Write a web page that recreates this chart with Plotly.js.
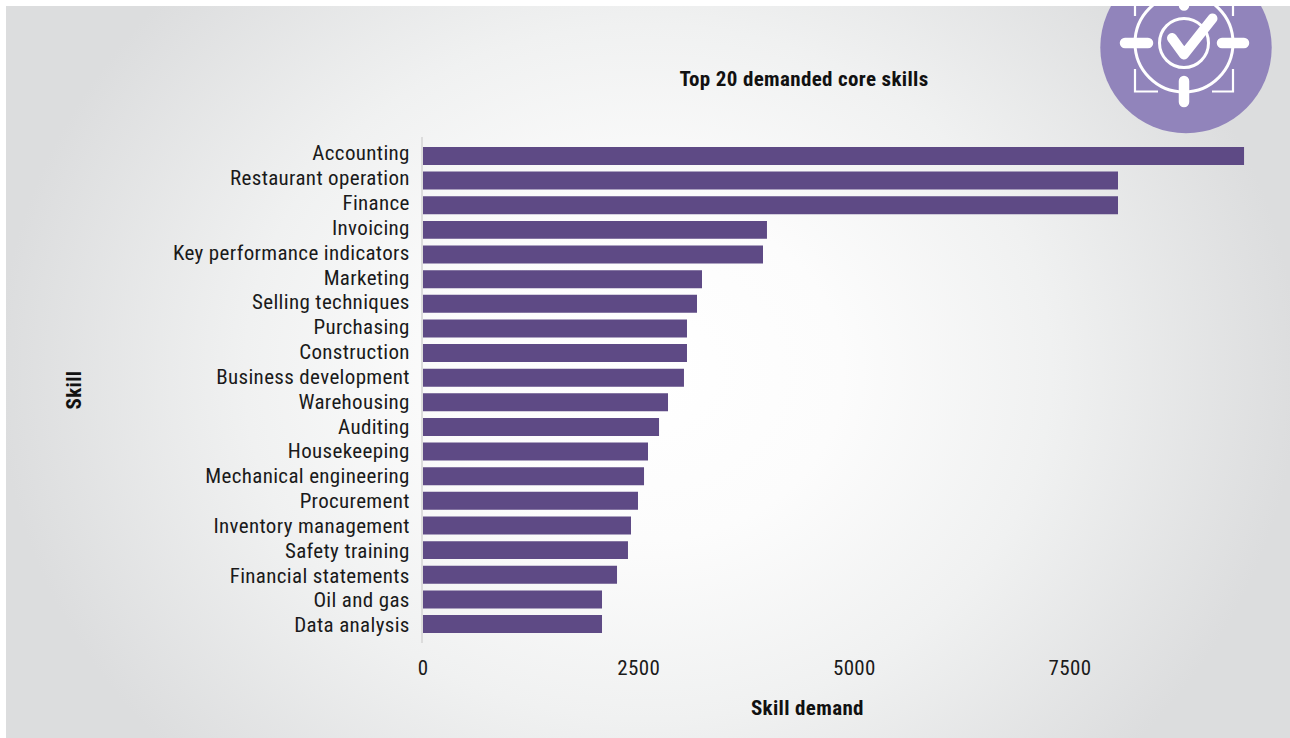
<!DOCTYPE html>
<html>
<head>
<meta charset="utf-8">
<script src="https://cdn.plot.ly/plotly-3.0.1.min.js"></script>
<style>
  html, body { margin: 0; padding: 0; background: #fff; overflow: hidden; }
  #stage { position: relative; width: 1290px; height: 738px; }
  #backdrop { position: absolute; left: 0; top: 0; }
  #chart { position: absolute; left: 0; top: 0; width: 1290px; height: 738px; }
  #chart text { font-stretch: 75%; letter-spacing: 0.35px; }
</style>
</head>
<body>
<div id="stage">
  <svg id="backdrop" width="1290" height="738" viewBox="0 0 1290 738">
    <defs>
      <radialGradient id="wash" gradientUnits="userSpaceOnUse" cx="0" cy="0" r="1"
                      gradientTransform="translate(648 372) scale(650 560)">
        <stop offset="0" stop-color="#ffffff"/>
        <stop offset="0.3" stop-color="#fcfcfc"/>
        <stop offset="0.62" stop-color="#f0f1f1"/>
        <stop offset="1" stop-color="#dcddde"/>
      </radialGradient>
      <clipPath id="panel"><rect x="6" y="6" width="1284" height="732"/></clipPath>
    </defs>
    <rect x="6" y="6" width="1284" height="732" fill="url(#wash)"/>
    <g clip-path="url(#panel)">
      <circle cx="1186" cy="47.5" r="85.7" fill="#9184bb"/>
      <g fill="none" stroke="#ffffff" stroke-linecap="round">
        <circle cx="1184" cy="43" r="49" stroke-width="3"/>
        <circle cx="1184" cy="43" r="24.5" stroke-width="3"/>
        <path d="M1125 43H1148M1222 43H1244M1184 81V102M1184 -16V5.5" stroke-width="10.5"/>
        <path d="M1172 38L1184 54.5L1212.5 18.5" stroke-width="10" stroke-linejoin="round"/>
      </g>
      <path d="M1135 69V91.5H1158M1233 69V91.5H1212M1135 16V-6M1233 16V-6" fill="none" stroke="#ffffff" stroke-width="2.2"/>
    </g>
  </svg>
  <div id="chart"></div>
</div>
<script>
// Core skills ranked by demand, highest first
const skills = [
  "Accounting", "Restaurant operation", "Finance", "Invoicing",
  "Key performance indicators", "Marketing", "Selling techniques", "Purchasing",
  "Construction", "Business development", "Warehousing", "Auditing",
  "Housekeeping", "Mechanical engineering", "Procurement", "Inventory management",
  "Safety training", "Financial statements", "Oil and gas", "Data analysis"
];
const demand = [
  9517, 8056, 8056, 3987,
  3941, 3234, 3176, 3060,
  3060, 3025, 2840, 2736,
  2608, 2562, 2492, 2411,
  2376, 2249, 2075, 2075
];
const demandTicks = [0, 2500, 5000, 7500];

const chartTitle = "Top 20 demanded core skills";
const xTitle = "Skill demand";
const yTitle = "Skill";

const textFont = "'Roboto Condensed', 'Roboto', sans-serif";

// The category labels run on a slightly wider pitch than the bars, so they
// sit on their own overlaid axis, carried by a transparent companion trace.
Plotly.newPlot("chart", [{
  type: "bar",
  orientation: "h",
  x: demand,
  y: skills,
  marker: { color: "#5e4a85", line: { width: 0 } },
  hoverinfo: "x+y"
}, {
  type: "scatter",
  mode: "markers",
  x: demand,
  y: skills,
  yaxis: "y2",
  marker: { opacity: 0 },
  hoverinfo: "skip"
}], {
  width: 1290,
  height: 738,
  showlegend: false,
  paper_bgcolor: "rgba(0,0,0,0)",
  plot_bgcolor: "rgba(0,0,0,0)",
  margin: { l: 423, r: 40, t: 137, b: 95, pad: 0 },
  bargap: 0.27,
  font: { family: textFont, color: "#1a1a1a", size: 21 },
  title: {
    text: "<b>" + chartTitle + "</b>",
    font: { family: textFont, size: 21, color: "#111111" },
    x: 804 / 1290, xanchor: "center",
    y: 1 - 79 / 738, yanchor: "middle"
  },
  annotations: [{
    text: "<b>" + xTitle + "</b>",
    xref: "paper", yref: "paper",
    x: (807 - 423) / 827, y: (643 - 708) / 506,
    xanchor: "center", yanchor: "middle",
    showarrow: false,
    font: { family: textFont, size: 21, color: "#111111" }
  }],
  xaxis: {
    range: [0, 9586],
    tickmode: "array",
    tickvals: demandTicks,
    ticktext: demandTicks.map(String),
    showgrid: false,
    zeroline: false,
    showline: false,
    ticks: "outside",
    ticklen: 6,
    tickcolor: "rgba(0,0,0,0)",
    tickfont: { family: textFont, size: 21, color: "#1a1a1a" }
  },
  yaxis: {
    type: "category",
    categoryorder: "array",
    categoryarray: skills,
    range: [19.77, -0.77],
    showgrid: false,
    zeroline: false,
    showline: true,
    linecolor: "#dcdcdc",
    linewidth: 1.5,
    ticks: "",
    showticklabels: false
  },
  yaxis2: {
    type: "category",
    overlaying: "y",
    side: "left",
    categoryorder: "array",
    categoryarray: skills,
    range: [19.73, -0.644],
    tickmode: "array",
    tickvals: skills,
    ticktext: skills,
    showgrid: false,
    zeroline: false,
    showline: false,
    ticks: "outside",
    ticklen: 8,
    tickcolor: "rgba(0,0,0,0)",
    tickfont: { family: textFont, size: 21, color: "#1a1a1a" },
    title: { text: "<b>" + yTitle + "</b>", standoff: 94, font: { family: textFont, size: 21, color: "#111111" } }
  }
}, { displayModeBar: false });
</script>
</body>
</html>
